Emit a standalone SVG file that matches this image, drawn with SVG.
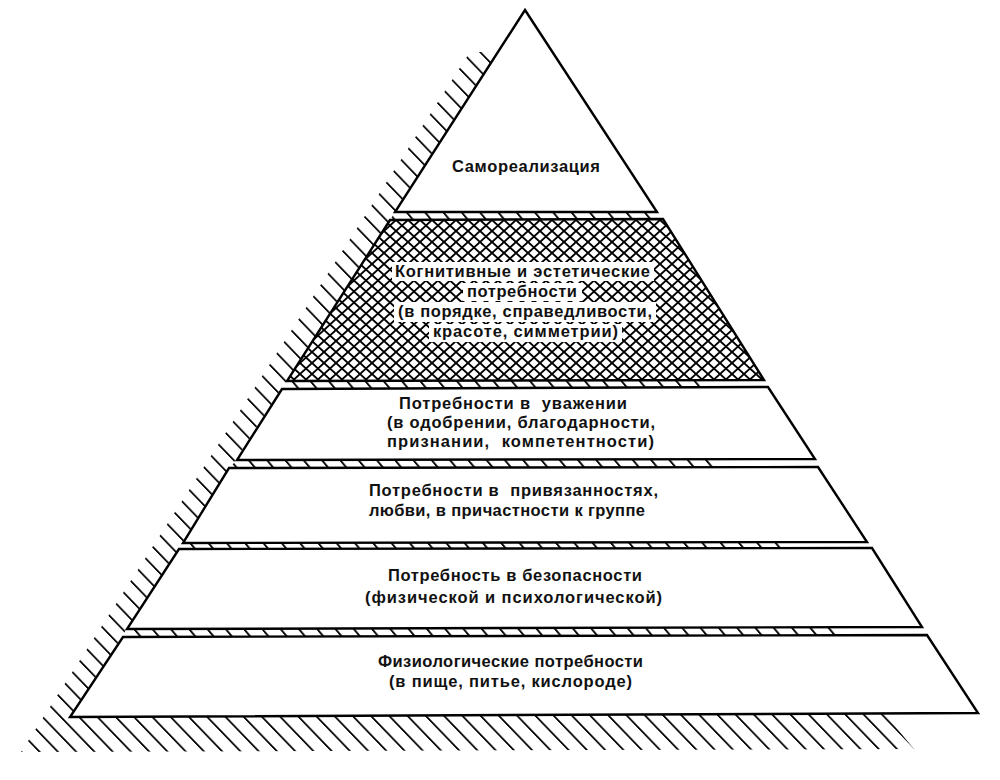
<svg xmlns="http://www.w3.org/2000/svg" width="1000" height="780" viewBox="0 0 1000 780">
  <defs>
    <pattern id="hatch" patternUnits="userSpaceOnUse" width="18.3" height="40" patternTransform="skewX(44)">
      <line x1="9" y1="-2" x2="9" y2="42" stroke="#000" stroke-width="2.4"/>
    </pattern>
    <pattern id="tick" patternUnits="userSpaceOnUse" width="18.3" height="40" patternTransform="skewX(40)">
      <line x1="9" y1="-2" x2="9" y2="42" stroke="#000" stroke-width="2.4"/>
    </pattern>
    <pattern id="cross" patternUnits="userSpaceOnUse" width="12" height="11">
      <path d="M-1,-0.9 L13,11.9 M13,-0.9 L-1,11.9" stroke="#000" stroke-width="1.9" fill="none"/>
    </pattern>
    <style>
      .layer { fill: #fff; stroke: #000; stroke-width: 2.4; stroke-linejoin: miter; }
      .xlayer { fill: url(#cross); stroke: #000; stroke-width: 2.4; }
      .strip { fill: url(#tick); stroke: none; }
      .knock { fill: #fff; stroke: none; }
      .lbl { font-family: "Liberation Sans", Arial, sans-serif; font-weight: bold; font-size: 16.5px; fill: #111; }
    </style>
  </defs>

  <rect x="0" y="0" width="1000" height="780" fill="#fff"/>

  <!-- shadow hatching on left side and under the base -->
  <g id="shadow">
    <polygon points="498,52 70,717 884,713 914,749 21,752 470,52" fill="url(#hatch)"/>
  </g>

  <!-- separators between levels -->
  <g id="separators">
    <polygon class="strip" points="395,212 657,212 663,219 390,220"/>
    <polygon class="strip" points="287,381 700,380 700,388 282,389"/>
    <polygon class="strip" points="237,460 722,459 722,467 229,468"/>
    <polygon class="strip" points="183,543 787,542 787,548 179,549"/>
    <polygon class="strip" points="127,629 837,628 837,635 123,637"/>
  </g>

  <g id="level-self-actualization">
    <polygon class="layer" points="525,10 657,212 395,212"/>
    <text class="lbl" x="452" y="172" textLength="148" lengthAdjust="spacing">Самореализация</text>
  </g>

  <g id="level-cognitive-aesthetic">
    <polygon class="xlayer" points="390,220 663,219 764,380 287,381"/>
    <rect class="knock" x="392" y="262" width="262" height="19"/>
    <rect class="knock" x="463" y="283" width="119" height="18"/>
    <rect class="knock" x="394" y="302" width="262" height="20"/>
    <rect class="knock" x="429" y="324" width="193" height="18"/>
    <text class="lbl" x="395" y="277" textLength="255" lengthAdjust="spacing">Когнитивные и эстетические</text>
    <text class="lbl" x="467" y="297" textLength="110" lengthAdjust="spacing">потребности</text>
    <text class="lbl" x="398" y="317" textLength="254" lengthAdjust="spacing">(в порядке, справедливости,</text>
    <text class="lbl" x="433" y="337" textLength="185" lengthAdjust="spacing">красоте, симметрии)</text>
  </g>

  <g id="level-esteem">
    <polygon class="layer" points="282,389 768,387 815,459 237,460"/>
    <text class="lbl" x="399" y="409" textLength="228" lengthAdjust="spacing" xml:space="preserve">Потребности в  уважении</text>
    <text class="lbl" x="387" y="428" textLength="268" lengthAdjust="spacing">(в одобрении, благодарности,</text>
    <text class="lbl" x="387" y="447" textLength="267" lengthAdjust="spacing" xml:space="preserve">признании,  компетентности)</text>
  </g>

  <g id="level-belonging">
    <polygon class="layer" points="229,468 818,467 867,542 183,543"/>
    <text class="lbl" x="369" y="496" textLength="289" lengthAdjust="spacing" xml:space="preserve">Потребности в  привязанностях,</text>
    <text class="lbl" x="369" y="516" textLength="276" lengthAdjust="spacing">любви, в причастности к группе</text>
  </g>

  <g id="level-safety">
    <polygon class="layer" points="179,549 872,548 922,627 127,629"/>
    <text class="lbl" x="388" y="581" textLength="254" lengthAdjust="spacing">Потребность в безопасности</text>
    <text class="lbl" x="365" y="603" textLength="297" lengthAdjust="spacing">(физической и психологической)</text>
  </g>

  <g id="level-physiological">
    <polygon class="layer" points="123,637 927,635 978,713 70,717"/>
    <text class="lbl" x="378" y="667" textLength="265" lengthAdjust="spacing">Физиологические потребности</text>
    <text class="lbl" x="389" y="687" textLength="243" lengthAdjust="spacing">(в пище, питье, кислороде)</text>
  </g>
</svg>
